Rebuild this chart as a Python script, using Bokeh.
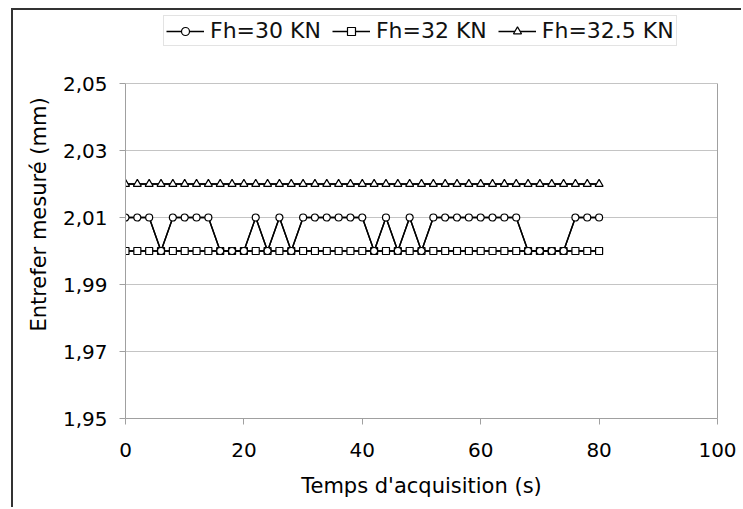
from bokeh.plotting import figure
from bokeh.models import (Legend, LegendItem, FixedTicker, CustomJSTickFormatter,
                          Range1d, LinearAxis)
from bokeh.embed import file_html
from bokeh.resources import INLINE

# ---- data ----
time_s = [0, 2, 4, 6, 8, 10, 12, 14, 16, 18, 20, 22, 24, 26, 28, 30, 32, 34, 36, 38,
          40, 42, 44, 46, 48, 50, 52, 54, 56, 58, 60, 62, 64, 66, 68, 70, 72, 74, 76, 78, 80]
fh30 = [2.01, 2.01, 2.01, 2.00, 2.01, 2.01, 2.01, 2.01, 2.00, 2.00, 2.00, 2.01, 2.00, 2.01,
        2.00, 2.01, 2.01, 2.01, 2.01, 2.01, 2.01, 2.00, 2.01, 2.00, 2.01, 2.00, 2.01, 2.01,
        2.01, 2.01, 2.01, 2.01, 2.01, 2.01, 2.00, 2.00, 2.00, 2.00, 2.01, 2.01, 2.01]
fh32 = [2.00] * 41
fh325 = [2.02] * 41
labels = ["Fh=30 KN", "Fh=32 KN", "Fh=32.5 KN"]
markers = ["circle", "square", "triangle"]
x_ticks = [0, 20, 40, 60, 80, 100]
y_ticks = [1.95, 1.97, 1.99, 2.01, 2.03, 2.05]
y_min, y_max = 1.95, 2.05

FONT = "DejaVu Sans"
AXIS = "#a0a0a0"

# frame extends to the top of the canvas so the legend can sit above the plot area
y_top = y_min + (y_max - y_min) * 408 / 335

p = figure(width=730, height=499, output_backend="svg", toolbar_location=None,
           x_range=Range1d(0, 100), y_range=Range1d(y_min, y_top),
           min_border_left=112, min_border_right=26, min_border_top=0,
           min_border_bottom=91)
p.styles = {"border-left": "2px solid #333333", "border-top": "2px solid #333333",
            "margin-left": "11px", "margin-top": "8px"}
p.background_fill_color = "white"
p.border_fill_color = "white"
p.outline_line_color = None

p.xgrid.visible = False
p.ygrid.grid_line_color = "#c4c4c4"
p.ygrid.grid_line_width = 1

p.xaxis.ticker = FixedTicker(ticks=x_ticks)
p.yaxis.ticker = FixedTicker(ticks=y_ticks)
p.yaxis.bounds = (y_min, y_max)
p.yaxis.formatter = CustomJSTickFormatter(code="return tick.toFixed(2).replace('.', ',');")
for ax in (p.xaxis[0], p.yaxis[0]):
    ax.axis_line_color = AXIS
    ax.major_tick_line_color = AXIS
    ax.minor_tick_line_color = None
    ax.major_tick_out = 6
    ax.major_tick_in = 0
    ax.major_label_text_font = FONT
    ax.major_label_text_font_size = "20px"
    ax.major_label_text_color = "black"
    ax.axis_label_text_font = FONT
    ax.axis_label_text_font_size = "21px"
    ax.axis_label_text_font_style = "normal"
    ax.axis_label_text_color = "black"
p.xaxis.axis_label = "Temps d'acquisition (s)"
p.yaxis.axis_label = "Entrefer mesuré (mm)"
p.xaxis.major_label_standoff = 18
p.yaxis.major_label_standoff = 12
p.xaxis.axis_label_standoff = 14
p.yaxis.axis_label_standoff = 9

# right edge of the plot area
right_edge = LinearAxis(bounds=(y_min, y_max), ticker=FixedTicker(ticks=[]),
                        axis_line_color=AXIS, major_tick_line_color=None,
                        minor_tick_line_color=None, major_label_text_font_size="0px")
p.add_layout(right_edge, "right")

series = [fh30, fh32, fh325]
sizes = [7, 7, 8]
legend_sizes = [5, 5, 6]

# legend glyph renderers (smaller markers, as in the original legend);
# drawn first so the full-size markers cover them completely
items = []
for i in range(3):
    ll = p.line(time_s, series[i], line_color="black", line_width=1.4)
    ls = p.scatter(time_s, series[i], marker=markers[i], size=legend_sizes[i],
                   fill_color="white", line_color="black", line_width=1.2)
    items.append(LegendItem(label=labels[i], renderers=[ll, ls]))

order = [1, 2, 0]  # draw 32, 32.5, then 30 on top
for i in order:
    p.line(time_s, series[i], line_color="black", line_width=1.4)
    p.scatter(time_s, series[i], marker=markers[i], size=sizes[i], fill_color="white",
              line_color="black", line_width=1.2)

legend = Legend(items=items, orientation="horizontal", location=(38, 372),
                label_text_font=FONT, label_text_font_size="22px",
                label_text_color="#111111",
                border_line_color="#c8c8c8", border_line_width=1,
                glyph_width=38, glyph_height=20, label_standoff=6, spacing=11,
                padding=2, margin=0, background_fill_alpha=1)
p.add_layout(legend, "center")

open("out.html", "w").write(file_html(p, INLINE))
